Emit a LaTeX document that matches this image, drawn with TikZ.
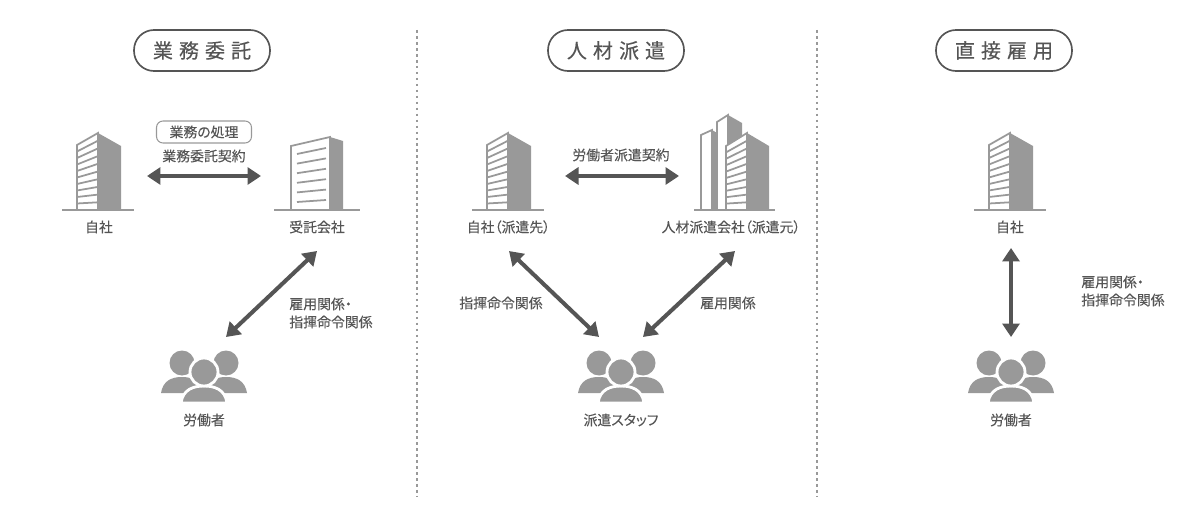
\documentclass[tikz,border=0pt]{standalone}
\usepackage{fontspec}
\setmainfont[RawFeature={+palt},FakeBold=0.12]{Noto Sans CJK JP}
\newfontfamily\titlefont[LetterSpace=30,FakeBold=0.35]{Noto Sans CJK JP}
\usetikzlibrary{arrows.meta}
\definecolor{inkgray}{HTML}{555555}
\definecolor{facegray}{HTML}{999999}
\tikzset{
  caption/.style={text=inkgray,font=\fontsize{7.9pt}{10pt}\selectfont,inner sep=0pt},
  captionleft/.style={caption,anchor=west,align=left},
  titlepill/.style={draw=inkgray,line width=0.95pt,rounded corners=0.4cm,text=inkgray,
    font=\titlefont\fontsize{11.4pt}{12pt}\selectfont,minimum width=2.72cm,minimum height=0.82cm,inner sep=0pt},
  smallpill/.style={draw=facegray,line width=0.6pt,rounded corners=0.13cm,text=inkgray,
    font=\fontsize{7.9pt}{10pt}\selectfont,minimum width=1.9cm,minimum height=0.44cm,inner sep=0pt},
  dotline/.style={draw=facegray,line width=1.5pt,dash pattern=on 1.5pt off 1.9pt},
  twoway/.style={draw=inkgray,line width=2.3pt,{Triangle[length=0.27cm,width=0.34cm]}-{Triangle[length=0.27cm,width=0.34cm]}},
  wall/.style={draw=facegray,line width=1pt,fill=white},
  stripe/.style={draw=facegray,line width=1pt},
  shade/.style={fill=facegray},
  pics/tower/.style={code={
    \fill [shade] (0,0) -- (0,-77) -- (23,-64) -- (23,0) -- cycle;
    \draw [wall] (0,0) -- (0,-77) -- (-21,-65) -- (-21,0) -- cycle;
    \foreach \i in {1,...,9}
      \draw [stripe] ({-21},{-65+6.5*\i}) -- (0,{-77+7.7*\i});
    \draw [stripe] (-36,0) -- (36,0);
  }},
  pics/office/.style={code={
    \fill [shade] (0,0) -- (0,-73) -- (13,-69) -- (13,0) -- cycle;
    \draw [wall] (0,0) -- (0,-73) -- (-39,-64) -- (-39,0) -- cycle;
    \foreach \i in {0,...,5}
      \draw [stripe] (-33,{-56+9.6*\i}) -- (-4,{-62+10.4*\i});
    \draw [stripe] (-56,0) -- (30,0);
  }},
  pics/twin/.style={code={
    \fill [shade] (-26,0) -- (-26,-80) -- (-21,-77) -- (-21,0) -- cycle;
    \draw [wall] (-26,0) -- (-26,-80) -- (-37,-75) -- (-37,0) -- cycle;
    \fill [shade] (-10,0) -- (-10,-95) -- (4,-87) -- (4,0) -- cycle;
    \draw [wall] (-10,0) -- (-10,-95) -- (-21,-88) -- (-21,0) -- cycle;
    \fill [shade] (9,0) -- (9,-77) -- (31,-64) -- (31,0) -- cycle;
    \draw [wall] (9,0) -- (9,-77) -- (-12,-64) -- (-12,0) -- cycle;
    \foreach \i in {1,...,9}
      \draw [stripe] (-12,{-64+6.4*\i}) -- (9,{-77+7.7*\i});
    \draw [stripe] (-44,0) -- (37,0);
  }},
  pics/people/.style={code={
    \fill [shade] (-43,13) .. controls (-41,1) and (-33,-3) .. (-22,-3) .. controls (-11,-3) and (-5,1) .. (-3,13) -- cycle;
    \fill [shade] (43,13) .. controls (41,1) and (33,-3) .. (22,-3) .. controls (11,-3) and (5,1) .. (3,13) -- cycle;
    \fill [shade] (-22,-17) circle (12.5);
    \fill [shade] (22,-17) circle (12.5);
    \draw [white,line width=1.6pt,fill=facegray] (-23,23) .. controls (-21,9) and (-10,6) .. (0,6) .. controls (10,6) and (21,9) .. (23,23) -- cycle;
    \draw [white,line width=1.6pt,fill=facegray] (0,-8) circle (14);
  }}
}
\begin{document}
\begin{tikzpicture}[x=0.02cm,y=-0.02cm]
\useasboundingbox (0,0) rectangle (1200,520);
\coordinate (dotA1) at (417,30);
\coordinate (dotA2) at (417,496);
\coordinate (dotB1) at (817,30);
\coordinate (dotB2) at (817,496);
\draw [dotline] (dotA1) -- (dotA2);
\draw [dotline] (dotB1) -- (dotB2);
\node [titlepill] (gyomuTitle) at (202,50.5) {業務委託};
\node [titlepill] (hakenTitle) at (616,50.5) {人材派遣};
\node [titlepill] (chokusetsuTitle) at (1004,50.5) {直接雇用};

\pic at (98,210) {tower};
\pic at (330,210) {office};
\pic at (204,380) {people};
\node [caption] (selfA) at (99,227) {自社};
\node [caption] (contractor) at (317,227) {受託会社};
\node [caption] (workerA) at (204,420) {労働者};
\node [smallpill] (taskPill) at (204,132) {業務の処理};
\node [caption] (taskLabel) at (204,156) {業務委託契約};
\node [captionleft] (empA) at (289,304) {雇用関係・};
\node [captionleft] (cmdA) at (289,322) {指揮命令関係};
\coordinate (taskL) at (147,176);
\coordinate (taskR) at (261,176);
\coordinate (contractorEnd) at (317,251);
\coordinate (workerAEnd) at (226,337);
\draw [twoway] (taskL) -- (taskR);
\draw [twoway] (contractorEnd) -- (workerAEnd);

\pic at (508,210) {tower};
\pic at (738,210) {twin};
\pic at (621,380) {people};
\node [caption] (selfB) at (508.5,227) {自社（派遣先）};
\node [caption] (agency) at (731,227) {人材派遣会社（派遣元）};
\node [caption] (staff) at (621,420) {派遣スタッフ};
\node [caption] (dispatchLabel) at (621,155) {労働者派遣契約};
\node [caption] (cmdB) at (501,303) {指揮命令関係};
\node [caption] (empB) at (728,303) {雇用関係};
\coordinate (dispatchL) at (565,176);
\coordinate (dispatchR) at (679,176);
\coordinate (selfBEnd) at (509,251);
\coordinate (staffL) at (599,337);
\coordinate (agencyEnd) at (735,251);
\coordinate (staffR) at (643,337);
\draw [twoway] (dispatchL) -- (dispatchR);
\draw [twoway] (selfBEnd) -- (staffL);
\draw [twoway] (agencyEnd) -- (staffR);

\pic at (1010,210) {tower};
\pic at (1011,380) {people};
\node [caption] (selfC) at (1010,227) {自社};
\node [caption] (workerC) at (1011,420) {労働者};
\node [captionleft] (empC) at (1081,282) {雇用関係・};
\node [captionleft] (cmdC) at (1081,300) {指揮命令関係};
\coordinate (selfCEnd) at (1011,248);
\coordinate (workerCEnd) at (1011,337);
\draw [twoway] (selfCEnd) -- (workerCEnd);
\end{tikzpicture}
\end{document}
